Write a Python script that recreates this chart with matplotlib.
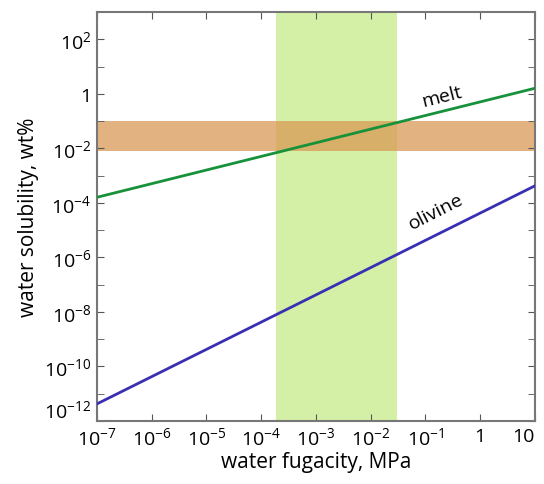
import numpy as np
import matplotlib.pyplot as plt

plt.rcParams['font.family'] = ['Open Sans', 'DejaVu Sans']
plt.rcParams['mathtext.fontset'] = 'custom'
plt.rcParams['mathtext.rm'] = 'Open Sans'
plt.rcParams['mathtext.it'] = 'Open Sans'

# end points of the two solubility laws
fugacity = [1e-7, 10.0]
melt = [1.6e-4, 1.6]
olivine = [4.2e-12, 4.2e-4]

# shaded ranges
fug_band = [1.9e-4, 3.0e-2]
sol_band = [8e-3, 1e-1]

xticks = [1e-7, 1e-6, 1e-5, 1e-4, 1e-3, 1e-2, 1e-1, 1, 10]
xlabels = ['$10^{-7}$', '$10^{-6}$', '$10^{-5}$', '$10^{-4}$', '$10^{-3}$',
           '$10^{-2}$', '$10^{-1}$', '1', '10']
yticks = [1e-12, 1e-10, 1e-8, 1e-6, 1e-4, 1e-2, 1, 1e2]
ylabels = ['$10^{-12}$', '$10^{-10}$', '$10^{-8}$', '$10^{-6}$', '$10^{-4}$',
           '$10^{-2}$', '1', '$10^{2}$']

fig = plt.figure(figsize=(5.44, 4.85), dpi=100)
ax = fig.add_axes([0.178, 0.130, 0.805, 0.843])

ax.axvspan(fug_band[0], fug_band[1], color='#d3f0a6', lw=0, zorder=0)
ax.axhspan(sol_band[0], sol_band[1], color='#d99a55', alpha=0.75, lw=0, zorder=1)

ax.plot(fugacity, melt, color='#17913a', lw=2, zorder=3)
ax.plot(fugacity, olivine, color='#3a2fb4', lw=2, zorder=3)

ax.set_xscale('log')
ax.set_yscale('log')
ax.set_xlim(1e-7, 10)
ax.set_ylim(1e-12, 1e3)

ax.set_xticks(xticks)
ax.set_xticklabels(xlabels)
ax.set_yticks(yticks)
ax.set_yticklabels(ylabels)
ax.set_yticks([10.0**k for k in range(-11, 4, 2)], minor=True)
ax.xaxis.set_minor_locator(plt.NullLocator())
ax.tick_params(which='both', direction='in', top=True, right=True,
               labelsize=14, color='#555555', length=5, pad=4)
ax.tick_params(which='minor', labelleft=False)
ax.get_xticklabels()[-1].set_horizontalalignment('right')
ax.get_yticklabels()[0].set_verticalalignment('bottom')
for s in ax.spines.values():
    s.set_color('#777777')
    s.set_linewidth(1.5)

ax.text(0.2, 0.25, 'melt', rotation=14, fontsize=14, ha='center', va='bottom')
ax.text(0.16, 8e-6, 'olivine', rotation=27, fontsize=14, ha='center', va='bottom')

ax.set_xlabel('water fugacity, MPa', fontsize=15, labelpad=2)
ax.set_ylabel('water solubility, wt%', fontsize=15, labelpad=4)

fig.savefig('out.png', dpi=100)
